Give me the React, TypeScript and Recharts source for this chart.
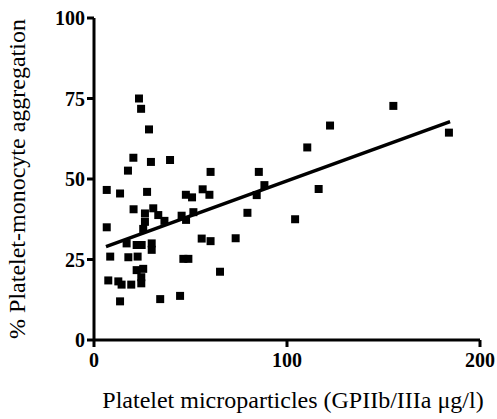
import React from "react";
import { ScatterChart, Scatter, XAxis, YAxis, ZAxis } from "recharts";

const pmpValues = [
  6.6, 13.5, 27.5, 17.6, 20.4, 23.3, 24.4, 28.5, 29.5, 39.4,
  60.4, 85.4, 47.6, 50.8, 56.3, 59.8, 88.3, 84.3, 20.5, 30.7,
  26.4, 33.3, 26.4, 36.5, 25.5, 45.4, 47.7, 51.5, 79.5, 6.6,
  55.8, 60.4, 73.4, 16.9, 22.1, 24.7, 29.9, 29.9, 8.4, 17.8,
  22.6, 46.3, 48.9, 22.1, 25.5, 65.3, 7.4, 12.6, 14.3, 19.3,
  24.5, 24.5, 13.5, 34.3, 44.6, 155.1, 122.3, 110.5, 183.9, 116.4,
  104.2,
];
const aggregationValues = [
  46.6, 45.5, 46.0, 52.6, 56.6, 75.0, 71.8, 65.4, 55.3, 55.9,
  52.2, 52.2, 45.1, 44.3, 46.8, 45.1, 48.1, 45.0, 40.6, 40.9,
  39.3, 38.8, 36.7, 37.0, 34.5, 38.6, 37.3, 39.7, 39.5, 35.0,
  31.5, 30.7, 31.6, 30.0, 29.5, 29.5, 30.0, 28.0, 25.9, 25.7,
  25.9, 25.2, 25.2, 21.7, 22.1, 21.2, 18.5, 18.2, 17.2, 17.2,
  17.6, 19.5, 12.0, 12.7, 13.7, 72.7, 66.6, 59.8, 64.4, 46.9,
  37.5,
];
const fitX = [6.2, 184.5];
const fitY = [29.0, 67.8];
const xTicks = [0, 100, 200];
const yTicks = [0, 25, 50, 75, 100];

const points = pmpValues.map((x, i) => ({ x, y: aggregationValues[i] }));
const fitLine = fitX.map((x, i) => ({ x, y: fitY[i] }));

const serif = '"Liberation Serif", "Times New Roman", "DejaVu Serif", serif';
const tickStyle = {
  fill: "#000",
  fontWeight: 700,
  fontSize: 20,
  style: { fontFamily: serif, fontWeight: 700 },
};
const axisLine = { stroke: "#000", strokeWidth: 3 };

export default function App() {
  return (
    <div
      style={{
        position: "absolute",
        left: 0,
        top: 0,
        background: "#fff",
        fontFamily: serif,
      }}
    >
      <ScatterChart
        width={497}
        height={419}
        margin={{ top: 18, right: 17, left: 0, bottom: 0 }}
        style={{ fontFamily: serif }}
      >
        <ZAxis range={[100, 100]} />
        <XAxis
          type="number"
          dataKey="x"
          domain={[0, 200]}
          ticks={xTicks}
          height={79}
          axisLine={axisLine}
          tickLine={axisLine}
          tickSize={7}
          tickMargin={6}
          tick={tickStyle}
          label={{
            value: "Platelet microparticles (GPIIb/IIIa μg/l)",
            content: (props: any) => {
              const vb = props.viewBox;
              return (
                <text
                  x={vb.x + vb.width / 2 + 6}
                  y={408}
                  textAnchor="middle"
                  style={{ fontFamily: serif, fontSize: 24 }}
                  fill="#000"
                >
                  Platelet microparticles (GPIIb/IIIa μg/l)
                </text>
              );
            },
          }}
        />
        <YAxis
          type="number"
          dataKey="y"
          domain={[0, 100]}
          ticks={yTicks}
          width={94}
          axisLine={axisLine}
          tickLine={axisLine}
          tickSize={7}
          tickMargin={2}
          tick={tickStyle}
          label={{
            value: "% Platelet-monocyte aggregation",
            content: (props: any) => {
              const vb = props.viewBox;
              const cy = vb.y + vb.height / 2;
              return (
                <text
                  x={25}
                  y={cy}
                  transform={`rotate(-90, 25, ${cy})`}
                  textAnchor="middle"
                  style={{ fontFamily: serif, fontSize: 24 }}
                  fill="#000"
                >
                  % Platelet-monocyte aggregation
                </text>
              );
            },
          }}
        />
        <Scatter
          data={points}
          shape="square"
          fill="#000"
          isAnimationActive={false}
        />
        <Scatter
          data={fitLine}
          line={{ stroke: "#000", strokeWidth: 3.5 }}
          shape={() => <g />}
          isAnimationActive={false}
        />
      </ScatterChart>
    </div>
  );
}
